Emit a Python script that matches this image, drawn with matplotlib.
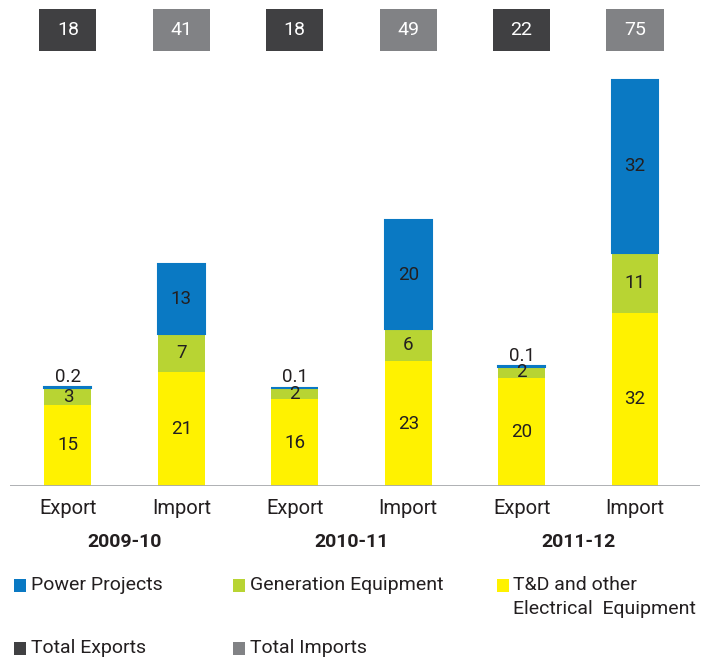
import matplotlib
matplotlib.use("Agg")
import matplotlib.pyplot as plt
import matplotlib.transforms as mtransforms
from matplotlib.patches import Rectangle
import numpy as np

plt.rcParams['font.family'] = ['Roboto', 'DejaVu Sans']

# ---- data ----
years = ["2009-10", "2010-11", "2011-12"]
bar_labels = ["Export", "Import", "Export", "Import", "Export", "Import"]
td_other = [15, 21, 16, 23, 20, 32]
generation = [3, 7, 2, 6, 2, 11]
power_projects = [0.2, 13, 0.1, 20, 0.1, 32]
totals = [18, 41, 18, 49, 22, 75]
series_names = ["Power Projects", "Generation Equipment", "T&D and other\nElectrical  Equipment"]
total_names = ["Total Exports", "Total Imports"]

c_blue = "#0a79c3"
c_green = "#b8d433"
c_yellow = "#fff200"
c_dark = "#404042"
c_gray = "#818285"
c_text = "#231f20"

W, H = 707, 661
fig = plt.figure(figsize=(W / 100, H / 100), dpi=100)

def fx(px):
    return px / W

def fy(py):
    return 1 - py / H

ax = fig.add_axes([fx(10), fy(486), fx(700) - fx(10), fy(60) - fy(486)])
x = np.arange(len(bar_labels))
bw = 0.414
td = np.array(td_other, float)
gen = np.array(generation, float)
pp = np.array(power_projects, float)

ax.bar(x, td, bw, color=c_yellow, zorder=2)
ax.bar(x, gen, bw, bottom=td, color=c_green, zorder=2)
ax.bar(x, pp, bw, bottom=td + gen, color=c_blue, edgecolor=c_blue, linewidth=1.5, zorder=2)

ax.set_xlim(-0.511, 5.573)
ax.set_ylim(0, 78.6)
ax.axis('off')
ax.axhline(0, color="#a7a9ac", lw=2, zorder=3)

fs_val = 13.5
for i in x:
    ax.text(i, td[i] / 2, f"{td_other[i]:g}", ha='center', va='center', fontsize=fs_val, color=c_text, zorder=4)
    ax.text(i, td[i] + gen[i] / 2, f"{generation[i]:g}", ha='center', va='center', fontsize=fs_val, color=c_text, zorder=4)
    top = td[i] + gen[i]
    if pp[i] < 1:
        ax.text(i, top + pp[i] + 0.3, f"{power_projects[i]:g}", ha='center', va='bottom', fontsize=fs_val, color=c_text, zorder=4)
    else:
        ax.text(i, top + pp[i] / 2, f"{power_projects[i]:g}", ha='center', va='center', fontsize=fs_val, color=c_text, zorder=4)

# total boxes at the top
trans = mtransforms.blended_transform_factory(ax.transData, fig.transFigure)
box_w = 0.503
for i in x:
    col = c_dark if i % 2 == 0 else c_gray
    r = Rectangle((i - box_w / 2, fy(51)), box_w, fy(9) - fy(51), transform=trans,
                  facecolor=col, edgecolor='none', clip_on=False, zorder=5)
    ax.add_patch(r)
    ax.text(i, fy(30), str(totals[i]), transform=trans, ha='center', va='center',
            fontsize=14, color='white', clip_on=False, zorder=6)

# category labels
for i in x:
    ax.text(i, fy(508), bar_labels[i], transform=trans, ha='center', va='center',
            fontsize=14.5, color=c_text)
for k, yr in enumerate(years):
    ax.text(2 * k + 0.5, fy(542), yr, transform=trans, ha='center', va='center',
            fontsize=14, fontweight='bold', color=c_text)

# legend (manual)
def swatch(xpx, ypx, color):
    fig.add_artist(Rectangle((fx(xpx), fy(ypx + 7)), fx(12), fy(0) - fy(13),
                             transform=fig.transFigure, facecolor=color, edgecolor='none'))

def leg(xpx, ypx, color, text):
    swatch(xpx, ypx, color)
    fig.text(fx(xpx + 17), fy(ypx), text, ha='left', va='center',
             fontsize=14, color=c_text)

leg(14, 585, c_blue, series_names[0])
leg(233, 585, c_green, series_names[1])
swatch(497, 585, c_yellow)
fig.text(fx(513), fy(576), series_names[2], ha='left', va='top', fontsize=14,
         color=c_text, linespacing=1.4)
leg(14, 648, c_dark, total_names[0])
leg(233, 648, c_gray, total_names[1])

fig.savefig("out.png", dpi=100)
